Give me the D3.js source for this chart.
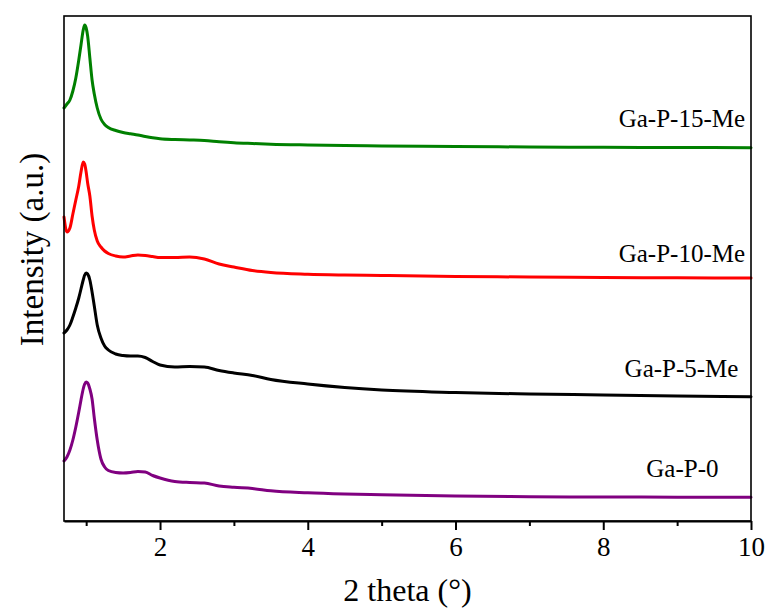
<!DOCTYPE html>
<html>
<head>
<meta charset="utf-8">
<script src="https://cdn.jsdelivr.net/npm/d3@7"></script>
<style>
  html, body { margin: 0; padding: 0; background: #fff; }
  svg { display: block; }
  text { font-family: "Liberation Serif", "Times New Roman", serif; fill: #000; }
</style>
</head>
<body>
<svg id="chart" width="770" height="610"></svg>
<script>
// ---------- data ----------
const theta = [0.70, 0.74, 0.78, 0.82, 0.86, 0.90, 0.93, 0.96, 0.98, 1.00, 1.02, 1.05, 1.08, 1.11, 1.15,
  1.20, 1.25, 1.30, 1.40, 1.50, 1.60, 1.70, 1.80, 1.90, 2.00, 2.20, 2.40, 2.60, 2.80, 3.00, 3.25, 3.50,
  4.0, 4.5, 5.0, 6.0, 7.0, 8.0, 9.0, 10.0];

const gaP15Me = [413, 417, 421, 430, 443, 461, 476, 491, 496, 493, 485, 463, 441, 427, 413,
  402, 396.5, 393.5, 390.5, 388.5, 387.2, 386, 384.5, 383.2, 382.2, 381.4, 381, 380.5, 379.3, 378.3, 377.5, 376.8,
  376, 375.4, 375, 374.5, 374, 373.7, 373.5, 373.3];

const gaP10Me = [304, 289, 293, 307, 321, 335, 349, 359, 357, 349, 338, 325, 305, 291, 280,
  274, 270, 267.5, 265, 264, 265, 266, 265.5, 264.5, 263.5, 263.5, 264, 262, 257, 254, 250.5, 248.5,
  246.8, 246, 245.5, 244.5, 244, 243.5, 243.2, 243];

const gaP5Me = [188, 191, 196, 204, 213, 223, 232, 241, 246, 248, 247, 241, 229, 215, 196,
  183, 175, 171, 167, 165.5, 165, 165, 163.5, 159.5, 156, 154, 154.5, 154, 150.5, 148, 145.5, 141.5,
  137, 133.5, 131, 128.5, 127, 126, 125, 124.3];

const gaP0 = [60, 64, 71, 81, 94, 109, 121, 132, 137, 139, 138, 132, 122, 103, 81,
  62, 54, 50.5, 48.5, 48, 48.5, 49.5, 49, 45.5, 43, 39.5, 38.5, 38, 35, 33.7, 32.5, 30.2,
  28.2, 27, 26.2, 25, 24.3, 24, 23.8, 23.7];

const seriesNames = ["Ga-P-15-Me", "Ga-P-10-Me", "Ga-P-5-Me", "Ga-P-0"];
const seriesColors = ["#008000", "#ff0000", "#000000", "#800080"];
const seriesValues = [gaP15Me, gaP10Me, gaP5Me, gaP0];

const majorTicks = [2, 4, 6, 8, 10];
const minorTicks = [1, 3, 5, 7, 9];
const xDomain = [0.7, 10];
const yDomain = [0, 505];
const xTitle = "2 theta (°)";
const yTitle = "Intensity (a.u.)";

// ---------- layout ----------
const margin = { left: 64, top: 16, right: 19, bottom: 89 };
const W = 770, H = 610;
const svg = d3.select("#chart");
const x = d3.scaleLinear().domain(xDomain).range([margin.left, W - margin.right]);
const y = d3.scaleLinear().domain(yDomain).range([H - margin.bottom, margin.top]);

// curves
const line = d3.line()
  .x((d, i) => x(theta[i]))
  .y(d => y(d))
  .curve(d3.curveMonotoneX);

svg.append("g").selectAll("path")
  .data(seriesValues)
  .join("path")
  .attr("d", d => line(d))
  .attr("fill", "none")
  .attr("stroke", (d, i) => seriesColors[i])
  .attr("stroke-width", 3)
  .attr("stroke-linejoin", "round")
  .attr("stroke-linecap", "round");

// frame
svg.append("rect")
  .attr("x", x(xDomain[0])).attr("y", y(yDomain[1]))
  .attr("width", x(xDomain[1]) - x(xDomain[0]))
  .attr("height", y(yDomain[0]) - y(yDomain[1]))
  .attr("fill", "none").attr("stroke", "#000").attr("stroke-width", 1.6);

// x axis (major)
const xAxis = d3.axisBottom(x).tickValues(majorTicks).tickSize(9).tickSizeOuter(0)
  .tickPadding(7).tickFormat(d3.format("d"));
const gx = svg.append("g").attr("transform", `translate(0,${y(yDomain[0])})`).call(xAxis);
gx.select(".domain").attr("stroke-width", 2.2);
gx.selectAll(".tick line").attr("stroke-width", 2);
gx.selectAll(".tick text")
  .style("font-family", '"Liberation Serif", serif')
  .style("font-size", "27px");

// minor ticks
const xMinor = d3.axisBottom(x).tickValues(minorTicks).tickSize(5).tickSizeOuter(0).tickFormat("");
const gm = svg.append("g").attr("transform", `translate(0,${y(yDomain[0])})`).call(xMinor);
gm.select(".domain").remove();
gm.selectAll(".tick line").attr("stroke-width", 2);

// series labels
const labelTheta = [9.92, 9.92, 9.83, 9.56];
const labelY = [394, 259, 144, 44];
svg.append("g").selectAll("text")
  .data(seriesNames)
  .join("text")
  .attr("x", (d, i) => x(labelTheta[i]))
  .attr("y", (d, i) => y(labelY[i]))
  .attr("text-anchor", "end")
  .style("font-size", "25px")
  .text(d => d);

// axis titles
svg.append("text")
  .attr("x", (x(xDomain[0]) + x(xDomain[1])) / 2 + 0)
  .attr("y", 601)
  .attr("text-anchor", "middle")
  .style("font-size", "32px")
  .text(xTitle);

svg.append("text")
  .attr("transform", `translate(43,${(y(yDomain[0]) + y(yDomain[1])) / 2 - 19}) rotate(-90)`)
  .attr("text-anchor", "middle")
  .style("font-size", "33px")
  .text(yTitle);
</script>
</body>
</html>
